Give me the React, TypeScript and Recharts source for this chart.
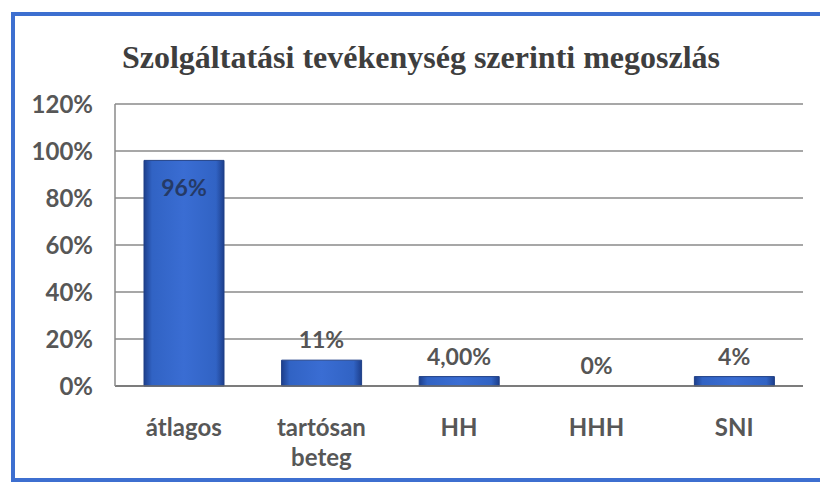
import React from 'react';
import { ComposedChart, Bar, Line, XAxis, YAxis, CartesianGrid, LabelList } from 'recharts';

const categories = ['átlagos', 'tartósan beteg', 'HH', 'HHH', 'SNI'];
const values = [96, 11, 4, 0, 4];
const valueLabels = ['96%', '11%', '4,00%', '0%', '4%'];
const yTicks = [0, 20, 40, 60, 80, 100, 120];
const title = 'Szolgáltatási tevékenység szerinti megoszlás';

const data = categories.map((c, i) => ({ name: c, value: values[i], label: valueLabels[i] }));

const FONT = 'Lato, "Open Sans", sans-serif';

const XTick = (props: any) => {
  const { x, y, payload } = props;
  const words = String(payload.value).split(' ');
  return (
    <text x={x} y={y} textAnchor="middle" fill="#575757" fontFamily={FONT} fontWeight={700} fontSize={24}>
      {words.map((w, i) => (
        <tspan key={i} x={x} dy={i === 0 ? 42 : 30}>{w}</tspan>
      ))}
    </text>
  );
};

const InsideLabel = (props: any) => {
  const { x, y, width, value } = props;
  const text = String(value);
  if (text !== valueLabels[0]) return null;
  return (
    <text x={x + width / 2} y={y + 36} textAnchor="middle" fill="#253a66" fontFamily={FONT} fontWeight={700} fontSize={23}>
      {text}
    </text>
  );
};

const TopLabel = (props: any) => {
  const { x, y, value } = props;
  const text = String(value);
  if (text === valueLabels[0]) return null;
  return (
    <text x={x} y={y - 12} textAnchor="middle" fill="#555555" fontFamily={FONT} fontWeight={700} fontSize={23}>
      {text}
    </text>
  );
};

export default function App() {
  return (
    <div style={{ position: 'absolute', left: 0, top: 0, width: 820, height: 485, background: '#fff', overflow: 'hidden' }}>
      <div
        style={{
          position: 'absolute',
          left: 11,
          top: 12,
          width: 830,
          height: 462,
          borderLeft: '4px solid #3d6fd0',
          borderTop: '4px solid #3d6fd0',
          borderBottom: '4px solid #3d6fd0',
        }}
      />
      <div
        style={{
          position: 'absolute',
          left: 0,
          width: 842,
          top: 37,
          textAlign: 'center',
          fontFamily: '"Liberation Serif", "DejaVu Serif", serif',
          fontWeight: 700,
          fontSize: 32,
          color: '#3e3e3e',
          lineHeight: '40px',
        }}
      >
        {title}
      </div>
      <div style={{ position: 'absolute', left: 0, top: 0 }}>
        <ComposedChart
          width={820}
          height={485}
          data={data}
          margin={{ top: 104, right: 17, bottom: 0, left: 0 }}
          barSize={80}
        >
          <defs>
            <linearGradient id="barGrad" x1="0" y1="0" x2="1" y2="0">
              <stop offset="0%" stopColor="#1d3f8c" />
              <stop offset="10%" stopColor="#3163c4" />
              <stop offset="50%" stopColor="#3a6dd3" />
              <stop offset="90%" stopColor="#3163c4" />
              <stop offset="100%" stopColor="#1d3f8c" />
            </linearGradient>
          </defs>
          <CartesianGrid vertical={false} stroke="#8a8a8a" strokeWidth={1.5} />
          <XAxis
            dataKey="name"
            axisLine={{ stroke: '#6e6e6e', strokeWidth: 1.5 }}
            tickLine={false}
            tick={<XTick />}
            height={99}
            interval={0}
          />
          <YAxis
            domain={[0, 120]}
            ticks={yTicks}
            tickFormatter={(v: number) => `${v}%`}
            width={115}
            axisLine={{ stroke: '#8a8a8a', strokeWidth: 1.5 }}
            tickLine={false}
            tickSize={0}
            tickMargin={22}
            tick={{ fill: '#575757', fontFamily: FONT, fontWeight: 700, fontSize: 24 }}
          />
          <Bar dataKey="value" fill="url(#barGrad)" stroke="#1f3f86" strokeWidth={1} isAnimationActive={false}>
            <LabelList dataKey="label" content={<InsideLabel />} />
          </Bar>
          <Line dataKey="value" stroke="none" dot={false} activeDot={false} legendType="none" isAnimationActive={false}>
            <LabelList dataKey="label" content={<TopLabel />} />
          </Line>
        </ComposedChart>
      </div>
    </div>
  );
}
